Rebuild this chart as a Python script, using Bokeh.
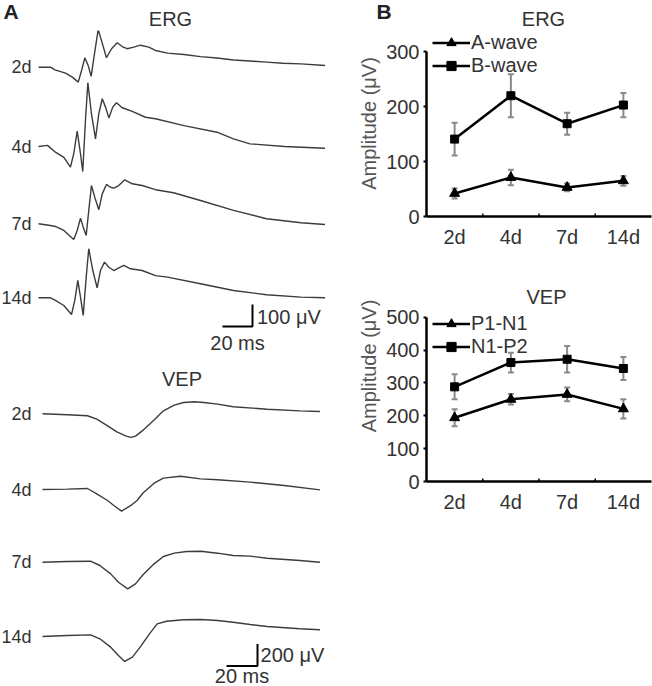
from bokeh.plotting import figure
from bokeh.layouts import row, column
from bokeh.models import (Range1d, FactorRange, Label, Legend, LegendItem,
                          Whisker, ColumnDataSource, TeeHead)
from bokeh.embed import file_html
from bokeh.resources import INLINE

# ---------------- data: panel A traces (time in ms, amplitude in uV) -------------
erg_2d_t = [0, 8, 11, 18, 22.5, 26.5, 28.7, 30.9, 33.1, 35.1, 37.3, 39.8, 42, 45.3, 48.7, 52.5,
            55.8, 59.1, 63.5, 68, 73.5, 78, 86, 97, 108, 119, 130, 141, 152, 163, 175, 191]
erg_2d_v = [0, 0, -12, -27, -45, -68, -15, 43, 8, -42, 61, 171, 121, 43, 84, 111,
            94, 84, 91, 100, 91, 76, 64, 58, 48, 42, 33, 28, 23, 18, 15, 8]
erg_4d_t = [0, 6, 11.3, 16.9, 21.3, 23.5, 25.8, 28, 29.5, 31.3, 32.9, 35.3, 38, 40.2, 42.5, 44.7,
            46.9, 49.5, 52, 55.8, 62.5, 71.3, 78, 97, 119, 130, 141, 164, 191]
erg_4d_v = [0, 5, -26, -49, -94, -33, 70, -33, -114, 118, 290, 149, 35, 149, 217, 179,
            130, 179, 199, 176, 160, 133, 126, 95, 65, 35, 12, 0, -8]
erg_7d_t = [0, 8, 11.3, 16.9, 23.5, 25.8, 28, 30.2, 31.8, 33.5, 35.3, 37.5, 40.2, 42.5, 45.3, 48,
            50.2, 53.5, 57.5, 62.5, 69.1, 78, 90, 108, 130, 152, 175, 191]
erg_7d_v = [0, -8, -12, -30, -71, -30, 25, -23, -53, 60, 174, 121, 64, 136, 179, 166,
            162, 174, 200, 182, 174, 155, 141, 106, 61, 23, 5, -3]
erg_14d_t = [0, 8, 11.3, 16.9, 22, 24.2, 26.2, 28, 29.8, 31.8, 33.5, 36.2, 39.1, 41.3, 44, 46.9,
             50.2, 53.5, 56.9, 61.3, 69.1, 78, 86, 108, 130, 152, 175, 191]
erg_14d_v = [0, 0, -12, -35, -76, -12, 79, 3, -80, 94, 223, 124, 45, 124, 162, 139,
             124, 136, 147, 132, 124, 101, 94, 64, 33, 14, 3, 0]

vep_2d_t = [0, 16, 29, 35, 42, 48, 54, 57, 60, 65, 72, 78, 85, 91, 98, 104, 113, 123, 145, 166, 179]
vep_2d_v = [0, -9, -18, -48, -109, -164, -203, -215, -203, -148, -57, 27, 79, 103, 109, 103, 88, 64, 42, 27, 21]
vep_4d_t = [0, 16, 29, 35, 42, 46, 51, 57, 61, 65, 72, 78, 89, 102, 113, 134, 156, 179]
vep_4d_v = [0, 3, 9, -39, -100, -145, -197, -145, -100, -30, 57, 103, 121, 97, 88, 67, 36, -3]
vep_7d_t = [0, 16, 31, 37, 44, 49, 55, 60, 65, 72, 78, 85, 93, 102, 113, 123, 134, 145, 166, 179]
vep_7d_v = [0, 6, 9, -30, -106, -182, -242, -197, -112, -15, 52, 82, 97, 100, 82, 61, 55, 36, 15, 0]
vep_14d_t = [0, 16, 31, 37, 44, 49, 53, 58, 63, 69, 74, 80, 91, 102, 113, 123, 134, 145, 166, 179]
vep_14d_v = [0, 9, 15, -21, -97, -173, -227, -188, -97, 24, 115, 139, 152, 155, 145, 130, 109, 91, 70, 61]

trace_labels = ["2d", "4d", "7d", "14d"]
erg_bar_ms, erg_bar_uv = 20, 100
vep_bar_ms, vep_bar_uv = 20, 200

# ---------------- data: panel B --------------------------------------------------
days = ["2d", "4d", "7d", "14d"]
erg_a_wave = [42, 71, 53, 65]
erg_a_err = [9, 14, 7, 9]
erg_b_wave = [141, 220, 169, 203]
erg_b_err = [30, 39, 20, 22]
vep_p1n1 = [194, 250, 265, 221]
vep_p1n1_err = [26, 16, 21, 29]
vep_n1p2 = [288, 362, 372, 344]
vep_n1p2_err = [38, 30, 40, 35]
erg_yticks = [0, 100, 200, 300]
vep_yticks = [0, 100, 200, 300, 400, 500]

# ---------------- layout / style ---------------------------------------------------
FONT = "Liberation Sans"
TXT = "#333333"
TRACE = "#3c3c3c"
W, H = 652, 686
A_W = 355          # width of panel A column
B_W = W - A_W      # width of panel B column
TOP = 30           # header strip (panel letters + ERG titles)


def blank_fig(w, h, xr, yr):
    p = figure(width=w, height=h, x_range=Range1d(*xr), y_range=Range1d(*yr),
               x_axis_type=None, y_axis_type=None, output_backend="svg",
               toolbar_location=None, min_border=0)
    p.grid.visible = False
    p.outline_line_color = None
    return p


def add_text(p, x, y, text, align="left", size="20px", style="normal",
             xu="data", yu="data", color=TXT):
    p.add_layout(Label(x=x, y=y, text=text, x_units=xu, y_units=yu,
                       text_align=align, text_baseline="middle",
                       text_font=FONT, text_font_size=size,
                       text_font_style=style, text_color=color))


# ---- header strip ----
head = blank_fig(W, TOP, (0, W), (TOP, 0))
add_text(head, 3, 11, "A", size="21px", style="bold", color="#222222")
add_text(head, 170, 18, "ERG", align="center")
add_text(head, 376, 11, "B", size="21px", style="bold", color="#222222")
add_text(head, 543, 18, "ERG", align="center")

# ---- A: ERG traces ----
erg_ms_px, erg_uv_px = 1.5, 100 / 22.0
a1_h = 360 - TOP
a1 = blank_fig(A_W, a1_h, (-38 / erg_ms_px, (A_W - 38) / erg_ms_px), (-a1_h * erg_uv_px, 0))
erg_sets = [(erg_2d_t, erg_2d_v), (erg_4d_t, erg_4d_v), (erg_7d_t, erg_7d_v), (erg_14d_t, erg_14d_v)]
erg_base_px = [66.7, 146, 223.3, 297.3]
for (t, v), lab, bpx in zip(erg_sets, trace_labels, erg_base_px):
    off = -(bpx - TOP) * erg_uv_px
    a1.line(t, [vv + off for vv in v], line_color=TRACE, line_width=1.4)
    add_text(a1, (31 - 38) / erg_ms_px, off, lab, align="right", size="18px")
bx, by = (252 - 38) / erg_ms_px, -(326 - TOP) * erg_uv_px
a1.line([bx - erg_bar_ms, bx, bx], [by, by, by + erg_bar_uv], line_color="black", line_width=2)
add_text(a1, bx + 3, by + erg_bar_uv * 0.45, "100 \u03bcV")
add_text(a1, bx - erg_bar_ms / 2, by - 16 * erg_uv_px, "20 ms", align="center")

# ---- A: VEP traces ----
vep_ms_px, vep_uv_px = 1.55, 200 / 22.0
a2_h = H - 360
a2 = blank_fig(A_W, a2_h, (-42 / vep_ms_px, (A_W - 42) / vep_ms_px), (-a2_h * vep_uv_px, 0))
vep_sets = [(vep_2d_t, vep_2d_v), (vep_4d_t, vep_4d_v), (vep_7d_t, vep_7d_v), (vep_14d_t, vep_14d_v)]
vep_base_px = [53.3, 129, 201.7, 276]
for (t, v), lab, bpx in zip(vep_sets, trace_labels, vep_base_px):
    off = -bpx * vep_uv_px
    a2.line(t, [vv + off for vv in v], line_color=TRACE, line_width=1.4)
    add_text(a2, (31 - 42) / vep_ms_px, off, lab, align="right", size="18px")
add_text(a2, 90, -18 * vep_uv_px, "VEP", align="center")
bx, by = (257 - 42) / vep_ms_px, -305.5 * vep_uv_px
a2.line([bx - vep_bar_ms, bx, bx], [by, by, by + vep_bar_uv], line_color="black", line_width=2)
add_text(a2, bx + 2, by + vep_bar_uv * 0.48, "200 \u03bcV")
add_text(a2, bx - vep_bar_ms / 2, by - 9.5 * vep_uv_px, "20 ms", align="center")

# ---- B: summary charts ----
FRAME_H = 170   # pixel height of the 0..ymax axis span


def summary_fig(h, frame_h, ymax, yticks, s1, e1, n1, s2, e2, n2, leg_y, title=None, title_px=0):
    top = ymax * frame_h / FRAME_H
    p = figure(width=B_W, height=h, x_range=FactorRange(*days),
               y_range=Range1d(0, top), output_backend="svg", toolbar_location=None,
               min_border_left=423 - A_W, min_border_right=1, min_border_top=0,
               min_border_bottom=h - frame_h)
    p.grid.visible = False
    p.outline_line_color = None
    for ax in (p.xaxis[0], p.yaxis[0]):
        ax.axis_line_width = 2.5
        ax.axis_line_color = "black"
        ax.major_label_text_font = FONT
        ax.major_label_text_font_size = "20px"
        ax.major_label_text_color = TXT
        ax.minor_tick_line_color = None
    p.xaxis.major_tick_line_color = None
    p.xaxis.major_label_standoff = 3
    p.yaxis.ticker = yticks
    p.yaxis.bounds = (0, ymax)
    p.yaxis.major_tick_in = 0
    p.yaxis.major_tick_out = 3
    p.yaxis.major_tick_line_width = 2
    p.yaxis.major_label_standoff = 4
    p.yaxis.axis_label = "Amplitude (\u03bcV)"
    p.yaxis.axis_label_text_font = FONT
    p.yaxis.axis_label_text_font_size = "20px"
    p.yaxis.axis_label_text_font_style = "normal"
    p.yaxis.axis_label_text_color = "#555555"
    p.yaxis.axis_label_standoff = 3

    # small separators between categories on the x axis
    seps = [(d, 0.5) for d in days[:-1]]
    p.segment(x0=seps, y0=[0] * 3, x1=seps, y1=[ymax * 0.018] * 3, line_color="black", line_width=1.5)

    items = []
    for vals, errs, name, mk, msize in ((s1, e1, n1, "triangle", 10), (s2, e2, n2, "square", 8)):
        src = ColumnDataSource(dict(x=days, upper=[v + e for v, e in zip(vals, errs)],
                                    lower=[v - e for v, e in zip(vals, errs)]))
        p.add_layout(Whisker(source=src, base="x", upper="upper", lower="lower",
                             line_color="#8a8a8a", line_width=2,
                             upper_head=TeeHead(size=6, line_color="#8a8a8a", line_width=2),
                             lower_head=TeeHead(size=6, line_color="#8a8a8a", line_width=2)))
        ln = p.line(days, vals, line_color="black", line_width=2.5)
        sm = p.scatter(days, vals, marker=mk, size=msize, color="black")
        items.append(LegendItem(label=name, renderers=[ln, sm]))
    lg = Legend(items=items, location=(6, leg_y), glyph_width=38, glyph_height=23,
                label_height=23, label_standoff=1, padding=0, margin=0, spacing=0,
                border_line_color=None, background_fill_alpha=0,
                label_text_font=FONT, label_text_font_size="20px", label_text_color=TXT)
    p.add_layout(lg)
    if title:
        add_text(p, 120, ymax * title_px / FRAME_H, title, align="center", xu="screen")
    return p


b1 = summary_fig(250 - TOP, 222 - TOP, 300, erg_yticks, erg_a_wave, erg_a_err, "A-wave",
                 erg_b_wave, erg_b_err, "B-wave", 139.5)
b2 = summary_fig(265, 239, 500, vep_yticks, vep_p1n1, vep_p1n1_err, "P1-N1",
                 vep_n1p2, vep_n1p2_err, "N1-P2", 123, "VEP", 191)

layout = column(head, row(column(a1, a2), column(b1, b2)))
open("out.html", "w").write(file_html(layout, INLINE))
